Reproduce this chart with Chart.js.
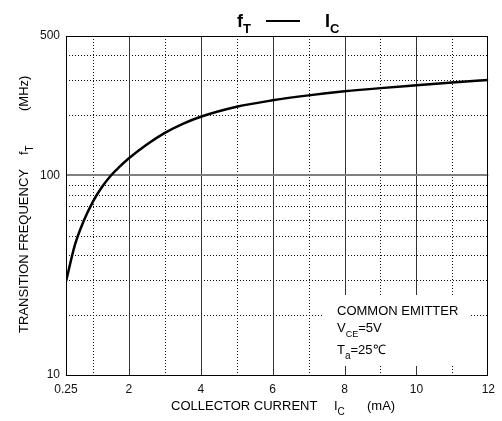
<!DOCTYPE html>
<html>
<head>
<meta charset="utf-8">
<script src="https://cdn.jsdelivr.net/npm/chart.js@4.4.0/dist/chart.umd.min.js"></script>
<style>
  html, body { margin: 0; padding: 0; background: #fff; }
  canvas { display: block; }
</style>
</head>
<body>
<canvas id="ft-chart" width="502" height="421"></canvas>
<script>
// fT vs IC curve (VCE = 5V, Ta = 25C)
const currentMA = [0.25, 0.5, 0.75, 1, 1.25, 1.5, 1.75, 2, 2.5, 3, 3.5, 4, 5, 6, 7, 8, 9, 10, 11, 12];
const freqMHz   = [29.4, 45, 59.6, 74, 87.5, 100, 111, 122, 143, 163.5, 181.5, 197, 221, 238, 252, 264, 274, 283, 292, 301];

// axis ticks and grid lines
const xTickValues = [0.25, 2, 4, 6, 8, 10, 12];
const xSolidLines = [2, 4, 6, 8, 10];
const xDottedLines = [1, 3, 5, 7, 9, 11];
const yTickValues = [10, 100, 500];
const ySolidLines = [100];
const yDottedLines = [20, 30, 40, 50, 60, 70, 80, 90, 200, 300, 400];

const FONT = '"Liberation Sans", Arial, sans-serif';

// draws a run of [text, isSubscript] pieces starting at x
function drawParts(ctx, parts, x, y, size, subSize, weight) {
    parts.forEach(p => {
        ctx.font = weight + ' ' + (p[1] ? subSize : size) + 'px ' + FONT;
        ctx.fillText(p[0], x, p[1] ? y + size * 0.35 : y);
        x += ctx.measureText(p[0]).width;
    });
    return x;
}

const gridPlugin = {
    id: 'gridLines',
    beforeDatasetsDraw(chart) {
        const ctx = chart.ctx;
        const area = chart.chartArea;
        const xs = chart.scales.x;
        const ys = chart.scales.y;
        ctx.save();

        // dotted minor grid
        ctx.strokeStyle = '#111';
        ctx.lineWidth = 1;
        ctx.setLineDash([1, 2]);
        ctx.beginPath();
        xDottedLines.forEach(v => {
            const px = Math.round(xs.getPixelForValue(v)) + 0.5;
            ctx.moveTo(px, area.top);
            ctx.lineTo(px, area.bottom);
        });
        yDottedLines.forEach(v => {
            const py = Math.round(ys.getPixelForValue(v)) + 0.5;
            ctx.moveTo(area.left, py);
            ctx.lineTo(area.right, py);
        });
        ctx.stroke();

        // solid major grid
        ctx.setLineDash([]);
        ctx.strokeStyle = '#333';
        ctx.beginPath();
        xSolidLines.forEach(v => {
            const px = Math.round(xs.getPixelForValue(v)) + 0.5;
            ctx.moveTo(px, area.top);
            ctx.lineTo(px, area.bottom);
        });
        ctx.stroke();

        ctx.strokeStyle = '#808080';
        ctx.lineWidth = 2;
        ctx.beginPath();
        ySolidLines.forEach(v => {
            const py = Math.round(ys.getPixelForValue(v));
            ctx.moveTo(area.left, py);
            ctx.lineTo(area.right, py);
        });
        ctx.stroke();

        // frame
        ctx.strokeStyle = '#000';
        ctx.lineWidth = 1;
        ctx.strokeRect(Math.round(area.left) + 0.5, Math.round(area.top) + 0.5,
            Math.round(area.right - area.left) - 1, Math.round(area.bottom - area.top));

        // blank panel behind the test conditions
        ctx.fillStyle = '#fff';
        ctx.fillRect(324, 295, 147, 71);
        ctx.restore();
    }
};

const labelPlugin = {
    id: 'labels',
    afterDraw(chart) {
        const ctx = chart.ctx;
        ctx.save();
        ctx.fillStyle = '#000';
        ctx.textBaseline = 'alphabetic';
        ctx.textAlign = 'left';

        // title: fT —— IC
        drawParts(ctx, [['f', false], ['T', true]], 237, 27, 18, 13, 'bold');
        ctx.strokeStyle = '#000';
        ctx.lineWidth = 2;
        ctx.beginPath();
        ctx.moveTo(266, 21);
        ctx.lineTo(300, 21);
        ctx.stroke();
        drawParts(ctx, [['I', false], ['C', true]], 325, 27, 18, 13, 'bold');

        // x axis title
        ctx.font = '13px ' + FONT;
        ctx.fillText('COLLECTOR CURRENT', 171, 410);
        drawParts(ctx, [['I', false], ['C', true]], 334, 410, 13, 10, 'normal');
        ctx.font = '13px ' + FONT;
        ctx.fillText('(mA)', 367, 410);

        // y axis title, rotated (x runs upward from y = 333)
        ctx.save();
        ctx.translate(28, 333);
        ctx.rotate(-Math.PI / 2);
        ctx.font = '13px ' + FONT;
        ctx.fillText('TRANSITION FREQUENCY', 0, 0);
        drawParts(ctx, [['f', false], ['T', true]], 178, 0, 13, 10, 'normal');
        ctx.font = '13px ' + FONT;
        ctx.fillText('(MHz)', 222, 0);
        ctx.restore();

        // test conditions
        ctx.font = '13px ' + FONT;
        ctx.fillText('COMMON EMITTER', 337, 315);
        drawParts(ctx, [['V', false], ['CE', true], ['=5V', false]], 337, 332, 13, 9, 'normal');
        drawParts(ctx, [['T', false], ['a', true], ['=25\u2103', false]], 337, 354, 13, 10, 'normal');
        ctx.restore();
    }
};

const points = currentMA.map((c, i) => ({ x: c, y: freqMHz[i] }));

new Chart(document.getElementById('ft-chart'), {
    type: 'line',
    data: {
        datasets: [{
            data: points,
            borderColor: '#000',
            borderWidth: 2.5,
            pointRadius: 0,
            cubicInterpolationMode: 'monotone',
            fill: false
        }]
    },
    options: {
        responsive: false,
        animation: false,
        layout: { padding: { top: 36, right: 11, left: 0, bottom: 0 } },
        plugins: {
            legend: { display: false },
            tooltip: { enabled: false }
        },
        scales: {
            x: {
                type: 'linear',
                min: 0.25,
                max: 12,
                grid: { display: false, drawTicks: false },
                border: { display: false },
                afterBuildTicks: s => { s.ticks = xTickValues.map(v => ({ value: v })); },
                afterFit: s => { s.height = 46; },
                ticks: {
                    padding: 7,
                    color: '#111',
                    font: { family: FONT, size: 12 },
                    maxRotation: 0,
                    autoSkip: false,
                    callback: v => String(v)
                }
            },
            y: {
                type: 'logarithmic',
                min: 10,
                max: 500,
                grid: { display: false, drawTicks: false },
                border: { display: false },
                afterBuildTicks: s => { s.ticks = yTickValues.map(v => ({ value: v })); },
                afterFit: s => { s.width = 66; },
                ticks: {
                    padding: 6,
                    color: '#111',
                    font: { family: FONT, size: 12 },
                    autoSkip: false,
                    callback: v => String(v)
                }
            }
        }
    },
    plugins: [gridPlugin, labelPlugin]
});
</script>
</body>
</html>
